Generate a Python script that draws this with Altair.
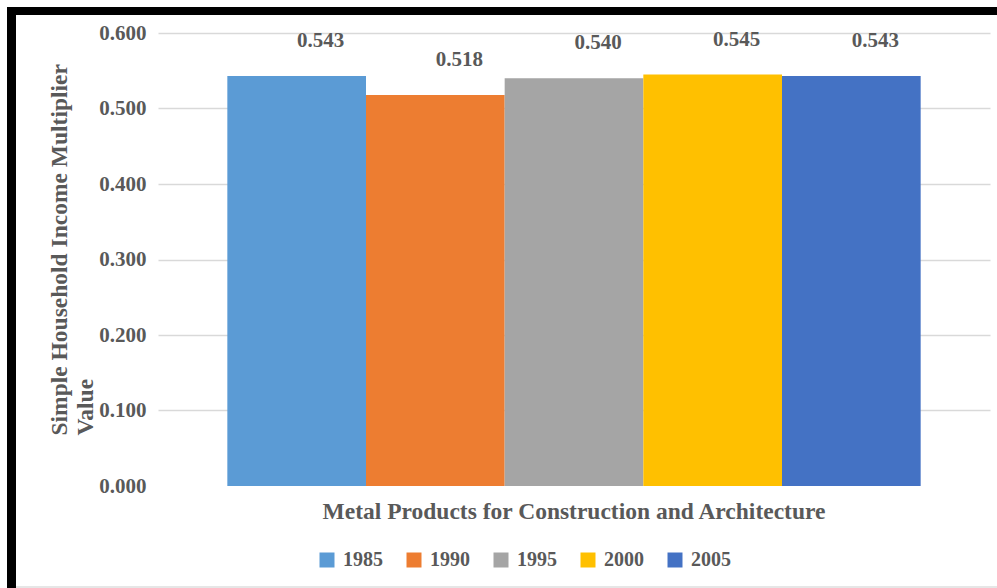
import altair as alt
import pandas as pd

category = ["Metal Products for Construction and Architecture"]
years = ["1985", "1990", "1995", "2000", "2005"]
values = [0.543, 0.518, 0.540, 0.545, 0.543]
colors = ["#5B9BD5", "#ED7D31", "#A5A5A5", "#FFC000", "#4472C4"]
y_ticks = [0.0, 0.1, 0.2, 0.3, 0.4, 0.5, 0.6]
y_title = ["Simple Household Income Multiplier", "Value"]

df = pd.DataFrame({
    "category": category * len(years),
    "year": years,
    "value": values,
})

FONT = "Liberation Serif"
GRAY = "#595959"

base = alt.Chart(df)

x_enc = alt.X(
    "category:N", title=None,
    scale=alt.Scale(paddingOuter=0.1, paddingInner=0),
    axis=alt.Axis(labelFont=FONT, labelFontSize=23.5, labelFontWeight="bold",
                  labelColor=GRAY, labelPadding=13, labelLimit=900, labelAngle=0,
                  ticks=False, domain=False, grid=False),
)
xoff = alt.XOffset("year:N", sort=years, scale=alt.Scale(paddingInner=0, paddingOuter=0))
y_enc = alt.Y(
    "value:Q",
    scale=alt.Scale(domain=[0, 0.6], nice=False),
    axis=alt.Axis(values=y_ticks, format=".3f", title=y_title,
                  labelFont=FONT, labelFontSize=21, labelFontWeight="bold",
                  labelColor=GRAY, labelPadding=12, ticks=False, domain=False,
                  gridColor="#d9d9d9", gridWidth=1.3,
                  gridOpacity=alt.condition("datum.value === 0", alt.value(0), alt.value(1)),
                  titleFont=FONT, titleFontSize=23.5, titleFontWeight="bold",
                  titleColor=GRAY, titleAngle=270, titleAlign="left",
                  titleBaseline="top", titleX=-111, titleY=402, titleLineHeight=26),
)

bars = base.mark_bar().encode(
    x=x_enc,
    xOffset=xoff,
    y=y_enc,
    color=alt.Color(
        "year:N",
        scale=alt.Scale(domain=years, range=colors),
        legend=alt.Legend(orient="none", legendX=159, legendY=517,
                          direction="horizontal", title=None,
                          symbolType="square", symbolSize=225,
                          symbolStrokeWidth=0, labelFont=FONT,
                          labelFontSize=20, labelFontWeight="bold",
                          labelColor=GRAY, labelOffset=6, columnPadding=21,
                          padding=0),
    ),
)

labels = base.mark_text(
    font=FONT, fontSize=21, fontWeight="bold", color=GRAY,
    dx=24, dy=-35, baseline="middle", align="center",
).encode(
    x=alt.X("category:N"),
    xOffset=xoff,
    y=alt.Y("value:Q"),
    text=alt.Text("value:Q", format=".3f"),
)

one = alt.Chart(pd.DataFrame({"k": [0]}))
border_left = one.mark_rect(color="black").encode(
    x=alt.value(-151), x2=alt.value(-142), y=alt.value(-26), y2=alt.value(555))
border_top = one.mark_rect(color="black").encode(
    x=alt.value(-151), x2=alt.value(839), y=alt.value(-26), y2=alt.value(-18))
bottom_line = one.mark_rule(color="#dedede", strokeWidth=1.5).encode(
    x=alt.value(-142), x2=alt.value(839), y=alt.value(554))

chart = alt.layer(bars, labels, border_left, border_top, bottom_line).properties(
    width=832, height=453,
    padding={"left": 158, "top": 33, "right": 7, "bottom": 102},
    autosize=alt.AutoSizeParams(type="none"),
    background="white",
).configure_view(stroke=None)

chart.save("out.html", embed_options={"renderer": "svg", "actions": False})
